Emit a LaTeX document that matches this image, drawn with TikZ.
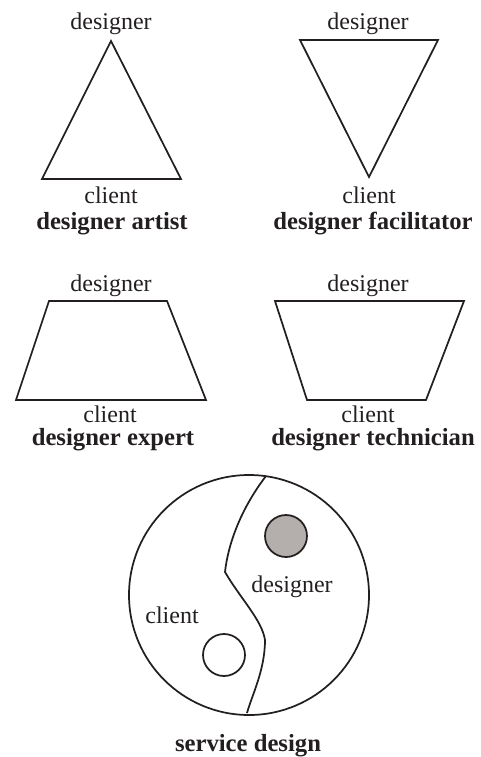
\documentclass[tikz,border=0pt]{standalone}
\usepackage{fontspec}
\setmainfont{Liberation Serif}
\definecolor{ink}{HTML}{231F20}
\definecolor{dot}{HTML}{B4AFAC}
\begin{document}
\begin{tikzpicture}[x=0.75pt,y=-0.75pt,
  lbl/.style={anchor=base, font=\fontsize{18}{20}\selectfont, text=ink, inner sep=0pt},
  ttl/.style={anchor=base, font=\fontsize{18.5}{20}\selectfont\bfseries, text=ink, inner sep=0pt},
  outline/.style={draw=ink, line width=1.3pt, line join=miter}]
\useasboundingbox (0,0) rectangle (481,757);

% designer artist
\draw[outline] (111,41) -- (181,179) -- (42,179) -- cycle;
\node[lbl] (d1) at (111,29) {designer};
\node[lbl] (c1) at (111,203) {client};
\node[ttl] (t1) at (112,229) {designer artist};

% designer facilitator
\draw[outline] (300,40) -- (438,40) -- (369,177) -- cycle;
\node[lbl] (d2) at (368,29) {designer};
\node[lbl] (c2) at (369,203) {client};
\node[ttl] (t2) at (373,229) {designer facilitator};

% designer expert
\draw[outline] (49,301) -- (167,301) -- (206,400) -- (16,400) -- cycle;
\node[lbl] (d3) at (111,291) {designer};
\node[lbl] (c3) at (110,422) {client};
\node[ttl] (t3) at (113,445) {designer expert};

% designer technician
\draw[outline] (275,301) -- (464,301) -- (426,400) -- (307,400) -- cycle;
\node[lbl] (d4) at (368,291) {designer};
\node[lbl] (c4) at (368,422) {client};
\node[ttl] (t4) at (373,445) {designer technician};

% service design
\draw[outline] (249,595) circle[radius=120];
\draw[outline] (266,476) .. controls (240,510) and (228,545) .. (225,572)
  .. controls (240,598) and (262,620) .. (265,640)
  .. controls (265,670) and (252,695) .. (247,713);
\draw[outline, fill=dot] (286,536) circle[radius=21];
\draw[outline, fill=white] (224,655) circle[radius=21];
\node[lbl] (d5) at (292,592) {designer};
\node[lbl] (c5) at (172,623) {client};
\node[ttl] (t5) at (248,751) {service design};
\end{tikzpicture}
\end{document}
